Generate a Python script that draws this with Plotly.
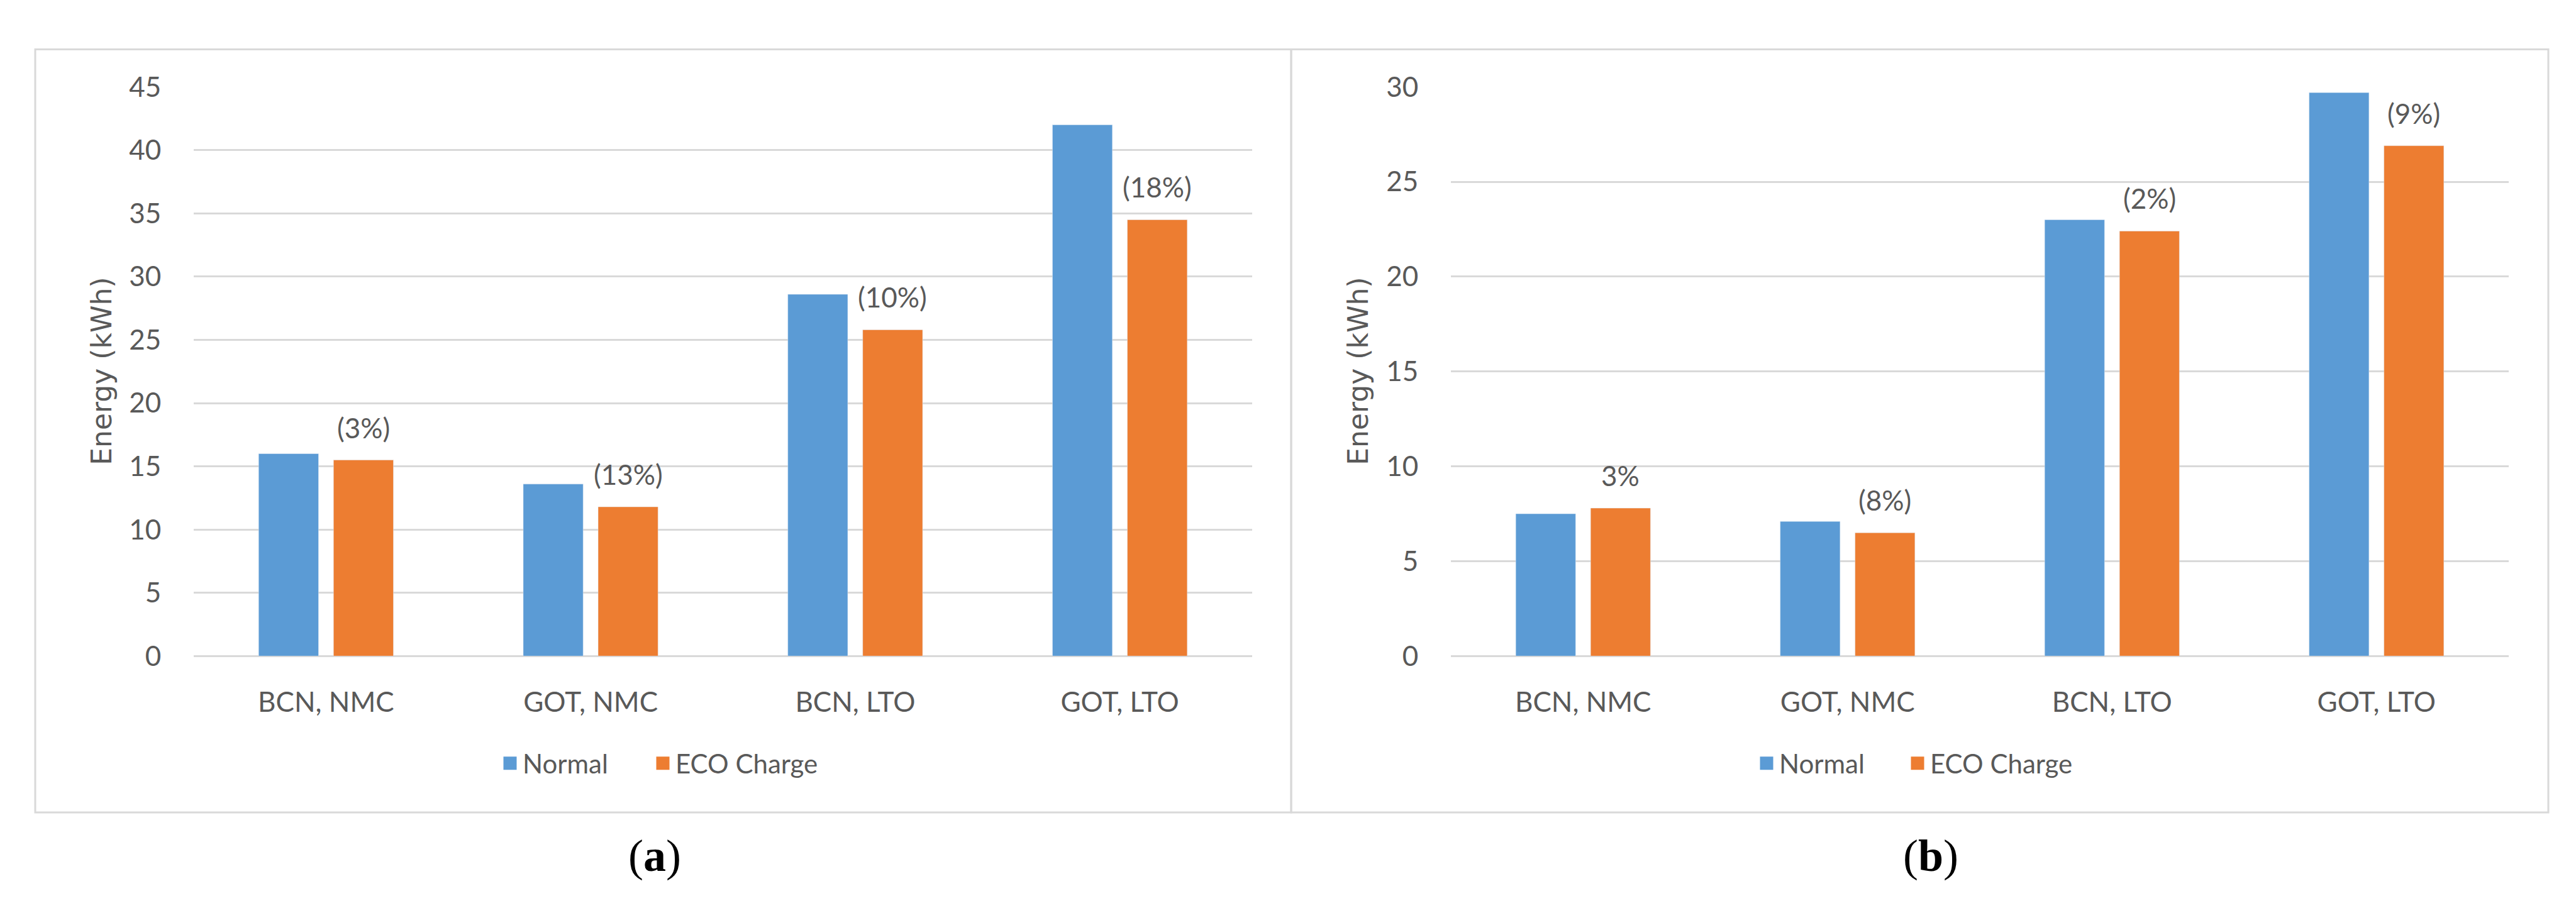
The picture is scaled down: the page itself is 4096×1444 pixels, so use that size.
import plotly.graph_objects as go

categories = ["BCN, NMC", "GOT, NMC", "BCN, LTO", "GOT, LTO"]
normal_a = [16.0, 13.6, 28.6, 42.0]
eco_a = [15.5, 11.8, 25.8, 34.5]
labels_a = ["(3%)", "(13%)", "(10%)", "(18%)"]
normal_b = [7.5, 7.1, 23.0, 29.7]
eco_b = [7.8, 6.5, 22.4, 26.9]
labels_b = ["3%", "(8%)", "(2%)", "(9%)"]
series_names = ["Normal", "ECO Charge"]
panel_labels = ["a", "b"]

BLUE = "#5B9BD5"
ORANGE = "#ED7D31"
GRID = "#D9D9D9"
TXT = "#595959"
FONT = "Lato, Carlito, sans-serif"
W, H = 4096, 1444

fig = go.Figure()
panels = [("x", "y", ("legend", "legend2"), normal_a, eco_a),
          ("x2", "y2", ("legend3", "legend4"), normal_b, eco_b)]
for xa, ya, lgs, nv, ev in panels:
    for vals, nm, col in ((nv, series_names[0], BLUE), (ev, series_names[1], ORANGE)):
        fig.add_trace(go.Bar(x=categories, y=vals, name=nm, marker_color=col,
                             xaxis=xa, yaxis=ya, showlegend=False))
    # legend entries (larger square swatches than the default bar swatch)
    for nm, col, lg in ((series_names[0], BLUE, lgs[0]), (series_names[1], ORANGE, lgs[1])):
        fig.add_trace(go.Scatter(x=[None], y=[None], mode="markers", name=nm,
                                 marker=dict(symbol="square", size=16, color=col,
                                             line=dict(color=col, width=5)),
                                 xaxis=xa, yaxis=ya, legend=lg, showlegend=True,
                                 hoverinfo="skip"))

ydom = [1 - 1045 / H, 1 - 106 / H]
xdom_a = [300 / W, 1983 / W]
xdom_b = [2299 / W, 3981 / W]

xcommon = dict(type="category", showgrid=False, showline=False, zeroline=False,
               ticks="outside", ticklen=35, tickcolor="rgba(0,0,0,0)",
               tickfont=dict(family=FONT, size=44, color=TXT))
ycommon = dict(showgrid=True, gridcolor=GRID, gridwidth=3, zeroline=True,
               zerolinecolor=GRID, zerolinewidth=3, showline=False, dtick=5,
               ticks="outside", ticklen=42, tickcolor="rgba(0,0,0,0)",
               tickfont=dict(family=FONT, size=44, color=TXT))

annotations = []
for (xa, ya, lgs, nv, ev), labs in zip(panels, (labels_a, labels_b)):
    for c, v, t in zip(categories, ev, labs):
        annotations.append(dict(x=c, y=v, xref=xa, yref=ya, text=t, showarrow=False,
                                xshift=59.5, yshift=52, yanchor="middle",
                                font=dict(family=FONT, size=44, color=TXT)))

for xc in (154 / W, 2152 / W):
    annotations.append(dict(x=xc, y=(ydom[0] + ydom[1]) / 2, xref="paper", yref="paper",
                            text="Energy (kWh)", textangle=-90, showarrow=False,
                            xanchor="center", yanchor="middle",
                            font=dict(family="DejaVu Sans, sans-serif", size=44, color=TXT)))

for xc, lab in zip((1033 / W, 3062 / W), panel_labels):
    annotations.append(dict(x=xc, y=1 - 1375 / H, xref="paper", yref="paper",
                            text="(<b>" + lab + "</b>)", showarrow=False,
                            xanchor="center", yanchor="middle",
                            font=dict(family="Liberation Serif, serif", size=72, color="#000000")))

shapes = [
    dict(type="rect", xref="paper", yref="paper", x0=48 / W, x1=2045 / W,
         y0=1 - 1303 / H, y1=1 - 44 / H, line=dict(color=GRID, width=3), layer="below"),
    dict(type="rect", xref="paper", yref="paper", x0=2045 / W, x1=4044 / W,
         y0=1 - 1303 / H, y1=1 - 44 / H, line=dict(color=GRID, width=3), layer="below"),
]

legend_common = dict(orientation="h", yanchor="middle", y=1 - 1222 / H, xanchor="left",
                     font=dict(family=FONT, size=42, color=TXT), bgcolor="rgba(0,0,0,0)",
                     itemclick=False, itemdoubleclick=False)

fig.update_layout(
    width=W, height=H, margin=dict(l=0, r=0, t=0, b=0),
    paper_bgcolor="white", plot_bgcolor="white",
    barmode="group", bargap=0.434, bargroupgap=0.2,
    xaxis=dict(domain=xdom_a, anchor="y", **xcommon),
    yaxis=dict(domain=ydom, anchor="x", range=[0, 45], **ycommon),
    xaxis2=dict(domain=xdom_b, anchor="y2", **xcommon),
    yaxis2=dict(domain=ydom, anchor="x2", range=[0, 30], **ycommon),
    legend=dict(x=783 / W, **legend_common),
    legend2=dict(x=1026 / W, **legend_common),
    legend3=dict(x=2781 / W, **legend_common),
    legend4=dict(x=3021 / W, **legend_common),
    annotations=annotations, shapes=shapes,
    showlegend=True,
)

fig.write_html("out.html")
